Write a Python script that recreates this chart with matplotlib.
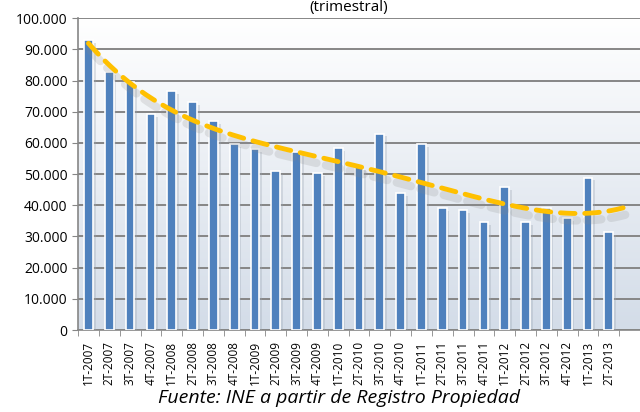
import matplotlib
matplotlib.use("Agg")
import matplotlib.pyplot as plt
import matplotlib.patheffects as pe
import numpy as np

plt.rcParams['font.family'] = ['Open Sans', 'DejaVu Sans']

# data
periodos = ["1T-2007", "2T-2007", "3T-2007", "4T-2007",
            "1T-2008", "2T-2008", "3T-2008", "4T-2008",
            "1T-2009", "2T-2009", "3T-2009", "4T-2009",
            "1T-2010", "2T-2010", "3T-2010", "4T-2010",
            "1T-2011", "2T-2011", "3T-2011", "4T-2011",
            "1T-2012", "2T-2012", "3T-2012", "4T-2012",
            "1T-2013", "2T-2013"]
compraventas = [92900, 82700, 79500, 69200,
                76600, 73100, 67000, 59500,
                57900, 50900, 57200, 50400,
                58200, 52300, 63000, 43800,
                59600, 39200, 38500, 34700,
                45900, 34700, 39200, 35800,
                48900, 31500]
yticks = list(range(0, 100001, 10000))

x = np.arange(1, len(compraventas) + 1)

fig = plt.figure(figsize=(6.4, 4.12), dpi=100)
ax = fig.add_axes([0.122, 0.199, 0.878, 0.757])

# background gradient
grad = np.linspace(0, 1, 256).reshape(-1, 1)
cmap = matplotlib.colors.LinearSegmentedColormap.from_list("bg", ["#d3dce8", "#ffffff"])
ax.imshow(grad, extent=[0, 1, 0, 1], transform=ax.transAxes, cmap=cmap,
          aspect="auto", origin="lower", zorder=0)

ax.set_xlim(0.5, len(compraventas) + 1.5)
ax.set_ylim(0, 100000)
ax.set_yticks(yticks)
ax.set_yticklabels([f"{v:,}".replace(",", ".") for v in yticks], fontsize=10)
ax.yaxis.grid(True, color="#868686", linewidth=1.4, zorder=1)
ax.set_axisbelow(True)

bars = ax.bar(x, compraventas, width=0.42, color="#4f81bd", edgecolor="white",
              linewidth=1.2, zorder=3)
for b in bars:
    b.set_path_effects([pe.SimplePatchShadow(offset=(2, -2), shadow_rgbFace="#9aa4b0", alpha=0.3),
                        pe.Normal()])

# polynomial trend (order 4), extended one period forward
coef = np.polyfit(x, compraventas, 4)
xt = np.linspace(1, len(compraventas) + 1, 300)
ax.plot(xt, np.polyval(coef, xt), color="#ffc000", linewidth=3.5,
        dashes=(3, 2), dash_capstyle="round", zorder=4,
        path_effects=[pe.SimpleLineShadow(offset=(1.5, -5), shadow_color="#8a8a8a", alpha=0.2,
                                          linewidth=6),
                      pe.Normal()])

ax.set_xticks(x)
ax.set_xticklabels(periodos, rotation=90, fontsize=8.5)
ax.set_xticks(np.arange(0.5, len(compraventas) + 2, 1), minor=True)
ax.tick_params(axis="x", which="major", length=0, pad=8)
ax.tick_params(axis="x", which="minor", length=4, color="#868686")
ax.tick_params(axis="y", length=4, color="#868686")

for s in ["top", "right"]:
    ax.spines[s].set_visible(False)
ax.spines["left"].set_color("#868686")
ax.spines["bottom"].set_color("#868686")
ax.spines["left"].set_linewidth(1.2)
ax.spines["bottom"].set_linewidth(1.2)

fig.text(0.545, 0.999, "(trimestral)", ha="center", va="top", fontsize=11)
fig.text(0.53, 0.033, "Fuente: INE a partir de Registro Propiedad", ha="center",
         va="center", fontsize=14, style="italic")

fig.savefig("out.png", dpi=100)
